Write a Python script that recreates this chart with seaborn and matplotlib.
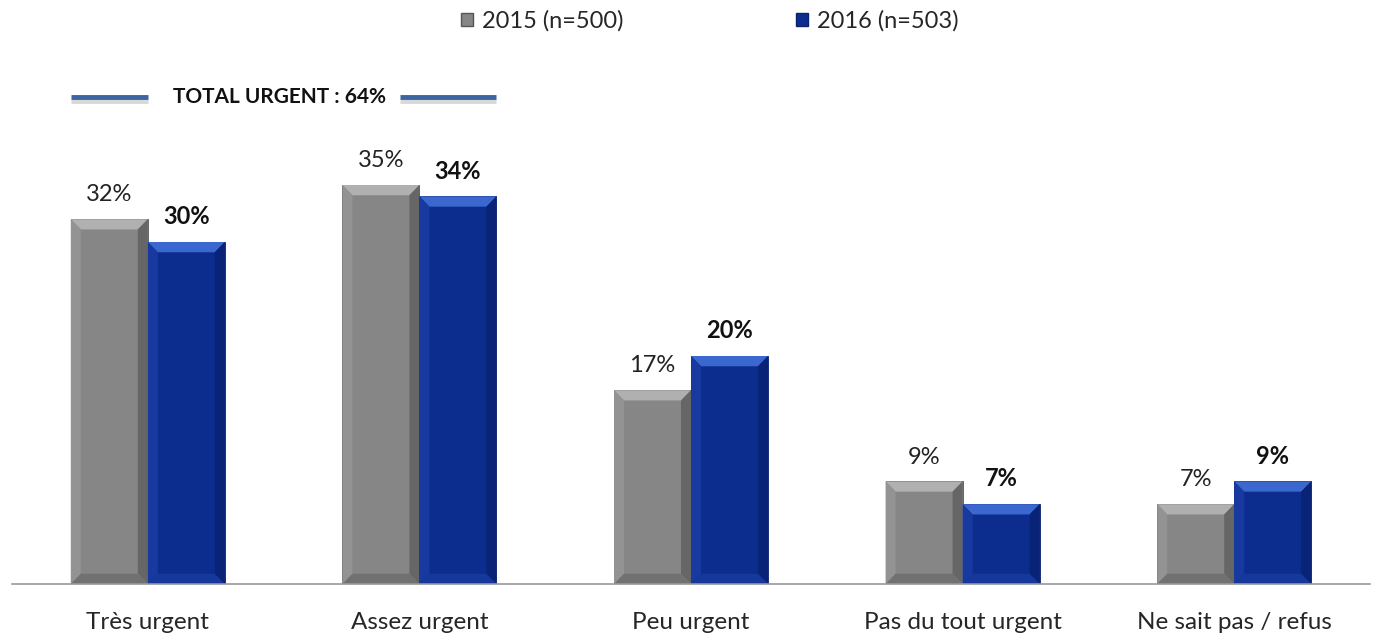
import pandas as pd
import matplotlib
matplotlib.use("Agg")
import matplotlib.pyplot as plt
from matplotlib.patches import Polygon, Patch
import seaborn as sns

categories = ["Très urgent", "Assez urgent", "Peu urgent", "Pas du tout urgent", "Ne sait pas / refus"]
values_2015 = [32, 35, 17, 9, 7]
values_2016 = [30, 34, 20, 7, 9]
years = ["2015 (n=500)", "2016 (n=503)"]
total_label = "TOTAL URGENT : 64%"

df = pd.DataFrame({
    "cat": categories * 2,
    "val": values_2015 + values_2016,
    "year": [years[0]] * 5 + [years[1]] * 5,
})

sns.set_style("white")
plt.rcParams["font.family"] = ["Lato", "DejaVu Sans"]

grey, blue = "#868686", "#0c2d8e"
shades = {
    grey: {"top": "#b0b0b0", "left": "#939393", "right": "#666666", "bottom": "#717171"},
    blue: {"top": "#3b68cf", "left": "#183aa0", "right": "#092476", "bottom": "#16389c"},
}

fig = plt.figure(figsize=(13.73, 6.34), dpi=100)
ax = fig.add_axes([12 / 1373, 50 / 634, 1358 / 1373, 544 / 634])

sns.barplot(data=df, x="cat", y="val", hue="year", palette=[grey, blue],
            width=0.567, saturation=1, legend=False, ax=ax)
ax.set_ylim(0, 544 / 11.4)
ax.set_xlim(-0.5, 4.5)

# bevel effect on each bar
for cont, col in zip(ax.containers, [grey, blue]):
    for r in cont:
        x0, w, h = r.get_x(), r.get_width(), r.get_height()
        x1, y1 = x0 + w, h
        bx, by = 0.13 * w, min(0.9, h / 3)
        r.set_edgecolor("#555555" if col == grey else "#0a2370")
        r.set_linewidth(0.6)
        s = shades[col]
        pts = {
            "top": [(x0, y1), (x1, y1), (x1 - bx, y1 - by), (x0 + bx, y1 - by)],
            "left": [(x0, 0), (x0, y1), (x0 + bx, y1 - by), (x0 + bx, by)],
            "right": [(x1, 0), (x1, y1), (x1 - bx, y1 - by), (x1 - bx, by)],
            "bottom": [(x0, 0), (x1, 0), (x1 - bx, by), (x0 + bx, by)],
        }
        for k, p in pts.items():
            ax.add_patch(Polygon(p, closed=True, facecolor=s[k], edgecolor="none", zorder=r.get_zorder() + 0.1))

ax.bar_label(ax.containers[0], labels=[f"{v}%" for v in values_2015], padding=10, fontsize=17, color="#222222")
ax.bar_label(ax.containers[1], labels=[f"{v}%" for v in values_2016], padding=10, fontsize=17,
             fontweight="bold", color="#111111")

# axis styling
for sp in ["top", "right", "left"]:
    ax.spines[sp].set_visible(False)
ax.spines["bottom"].set_color("#999999")
ax.spines["bottom"].set_linewidth(1.2)
ax.set_yticks([])
ax.set_xlabel("")
ax.set_ylabel("")
ax.set_xticks(range(len(categories)))
ax.set_xticklabels(categories, fontsize=17.5)
ax.tick_params(axis="x", which="major", length=0, pad=20)
ax.set_xticks([i - 0.5 for i in range(len(categories) + 1)], minor=True)
ax.tick_params(axis="x", which="minor", length=8, width=1.2, color="#999999", direction="out")

# total urgent bracket
g0 = ax.containers[0][0]
b1 = ax.containers[1][1]
lx0 = g0.get_x()
rx1 = b1.get_x() + b1.get_width()
ly = (584 - 97) / 11.4
for dy, c, lw in [(-0.35, "#d8d8d8", 3.5), (0, "#3a65a0", 3.5)]:
    ax.plot([lx0, 0.0], [ly + dy, ly + dy], color=c, lw=lw, solid_capstyle="butt", clip_on=False)
    ax.plot([0.93, rx1], [ly + dy, ly + dy], color=c, lw=lw, solid_capstyle="butt", clip_on=False)
ax.text(0.485, ly, total_label, ha="center", va="center", fontsize=15, fontweight="bold", color="#111111")

handles = [Patch(facecolor=grey, edgecolor="#555555"), Patch(facecolor=blue, edgecolor="#0a2370")]
fig.legend(handles, years, loc="center", bbox_to_anchor=(710 / 1373, 1 - 21 / 634), ncol=2, frameon=False,
           fontsize=17, handlelength=0.5, handleheight=0.5, handletextpad=0.4, columnspacing=7.3,
           borderpad=0, borderaxespad=0)

fig.savefig("out.png", dpi=100)
